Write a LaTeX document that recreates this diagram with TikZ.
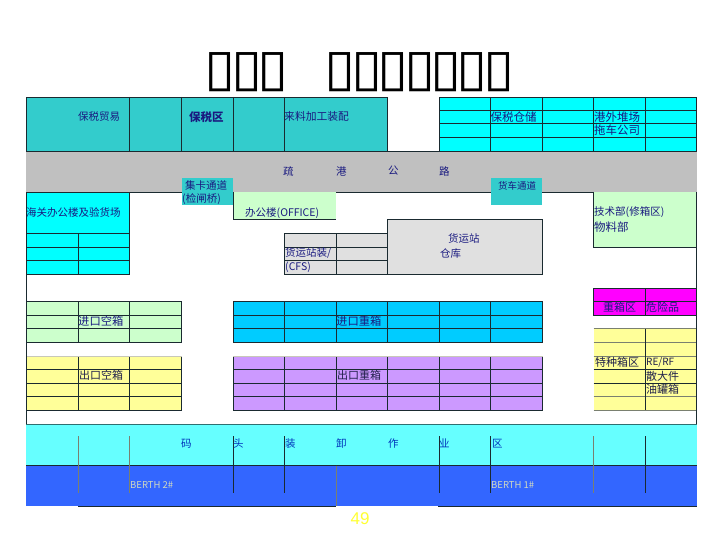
\documentclass[tikz,border=0pt]{standalone}
\usepackage{fontspec}
\setmainfont{Noto Sans CJK SC}
\newfontfamily\titlefont{DejaVu Sans}
\newfontfamily\numfont{Liberation Sans}
\newcommand{\tofu}{\scalebox{1.18}[1.07]{\titlefont\fontsize{48}{48}\selectfont ▯}}
\definecolor{tealfill}{HTML}{33CCCC}
\definecolor{cyanfill}{HTML}{00FFFF}
\definecolor{roadgray}{HTML}{C0C0C0}
\definecolor{palegreen}{HTML}{CCFFCC}
\definecolor{cfsgray}{HTML}{E0E0E0}
\definecolor{skyfill}{HTML}{00CCFF}
\definecolor{purplefill}{HTML}{CC99FF}
\definecolor{paleyellow}{HTML}{FFFF99}
\definecolor{magentafill}{HTML}{FF00FF}
\definecolor{quaycyan}{HTML}{66FFFF}
\definecolor{berthblue}{HTML}{3366FF}
\definecolor{linedark}{HTML}{1A2A30}
\definecolor{linesoft}{HTML}{7A8070}
\definecolor{linepale}{HTML}{C8C8B8}
\definecolor{quayline}{HTML}{2F6F70}
\definecolor{navytext}{HTML}{1A1A80}
\definecolor{darktext}{HTML}{20204A}
\definecolor{quaytext}{HTML}{0033BB}
\definecolor{berthtext}{HTML}{D0D8C0}
\definecolor{pagenum}{HTML}{FFFF33}
\tikzset{
  x=1pt,y=-1pt,
  rule/.style={draw=linedark,line width=0.8pt},
  softrule/.style={draw=linesoft,line width=0.7pt},
  palerule/.style={draw=linepale,line width=1pt},
  lab/.style={anchor=west,inner sep=0pt,text=navytext,font=\fontsize{10.5}{12}\selectfont},
  yardlab/.style={lab,font=\fontsize{11.3}{12}\selectfont},
  darklab/.style={lab,text=darktext,font=\fontsize{11}{12}\selectfont},
  titlebox/.style={anchor=center,inner sep=0pt},
}
% \blockgrid{x0}{x1}{y0}{y1}{fill}{inner xs}{inner ys}
\newcommand{\blockgrid}[7]{%
  \fill[#5] (#1,#3) rectangle (#2,#4);
  \foreach \gx in {#6} {\draw[rule] (\gx,#3) -- (\gx,#4);}
  \foreach \gy in {#7} {\draw[rule] (#1,\gy) -- (#2,\gy);}
  \draw[rule] (#1,#3) rectangle (#2,#4);
}
\begin{document}
\begin{tikzpicture}
\useasboundingbox (0,0) rectangle (720,540);
\fill[white] (0,0) rectangle (720,540);
% title
\foreach \tx/\tn in {220/a,247/b,273/c,340/d,367/e,393/f,420/g,446/h,472/i,499/j}
  \node[titlebox] (title\tn) at (\tx,72) {\tofu};
% road
\fill[roadgray] (26,151) rectangle (696.5,192);
\draw[rule] (26,151) -- (696.5,151);
\draw[rule] (26,192) -- (696.5,192);
% top blocks
\blockgrid{26}{387.5}{97}{151}{tealfill}{129.5,181.5,233,284.5}{}
\blockgrid{439}{696.5}{97}{151}{cyanfill}{490.5,542,593.5,645}{110,123.5,137}
% passages
\fill[tealfill] (181.5,178) rectangle (233,205.5);
\fill[tealfill] (490.5,178) rectangle (542,205.5);
% customs
\blockgrid{26}{129.5}{192}{274}{cyanfill}{}{233,247,260.5}
\draw[rule] (78,233) -- (78,274);
% office
\fill[palegreen] (233,192) rectangle (336,219);
\draw[rule] (233,192) -- (233,219) -- (336,219);
% CFS and warehouse
\blockgrid{284.5}{387.5}{233}{274}{cfsgray}{336}{247,260.5}
\blockgrid{387.5}{542.5}{219.5}{274}{cfsgray}{}{}
% tech
\fill[palegreen] (593.5,192) rectangle (696.5,247);
\draw[rule] (593.5,192) -- (593.5,247) -- (696.5,247);
% yards
\blockgrid{26}{181.5}{301.5}{342.5}{palegreen}{78,129.5}{315,328.7}
\blockgrid{233}{542.5}{301.5}{342.5}{skyfill}{284.5,336,387.5,439,490.5}{315,328.7}
\blockgrid{26}{181.5}{356}{410.5}{paleyellow}{78,129.5}{369.3,383.3,396.7}
\blockgrid{233}{542.5}{356}{410.5}{purplefill}{284.5,336,387.5,439,490.5}{369.3,383.3,396.7}
\draw[palerule] (26,356) -- (181.5,356);
\draw[palerule] (233,356) -- (542.5,356);
\blockgrid{593.5}{696.5}{288}{315}{magentafill}{645}{301.5}
\fill[paleyellow] (593.5,328.5) rectangle (696.5,410.5);
\foreach \yy in {342.5,356,396.7} {\draw[softrule] (593.5,\yy) -- (696.5,\yy);}
\foreach \yy in {369.3,383.3} {\draw[rule] (593.5,\yy) -- (696.5,\yy);}
\draw[rule] (645,328.5) -- (645,410.5);
\draw[softrule] (593.5,328.5) -- (696.5,328.5);
\draw[softrule] (593.5,410.5) -- (696.5,410.5);
% outer side lines
\draw[rule] (26,192) -- (26,425);
\draw[rule] (696.5,192) -- (696.5,425);
% quay
\fill[quaycyan] (26,424.5) rectangle (696.5,465.7);
\fill[berthblue] (26,465.7) rectangle (696.5,505.7);
\draw[quayline,line width=1.2pt] (26,424.5) -- (696.5,424.5);
\draw[rule] (26,465.7) -- (696.5,465.7);
\foreach \qx in {233,284.5,439,490.5,645}
  \draw[rule] (\qx,436) -- (\qx,492.7);
\foreach \qx in {78,129.5,593.5}
  \draw[softrule] (\qx,436) -- (\qx,492.7);
\draw[softrule] (336,465.7) -- (336,505.7);
\draw[rule] (78,506.3) -- (336,506.3);
\draw[rule] (438,506.3) -- (696.5,506.3);
% labels
\node[lab] (l01) at (78,116.7) {保税贸易};
\node[lab,font=\fontsize{11.5}{12}\selectfont\bfseries] (l02) at (189,116.7) {保税区};
\node[lab,font=\fontsize{10.8}{12}\selectfont] (l03) at (284,116.7) {来料加工装配};
\node[lab,font=\fontsize{11.5}{12}\selectfont] (l04) at (490.5,116.7) {保税仓储};
\node[lab,font=\fontsize{11.5}{12}\selectfont] (l05) at (594,116.7) {港外堆场};
\node[lab,font=\fontsize{11.5}{12}\selectfont] (l06) at (594,130) {拖车公司};
\foreach \rx/\rt/\rn in {283/疏/a,336/港/b,388/公/c,439/路/d}
  \node[lab] (road\rn) at (\rx,171) {\rt};
\node[lab] (l07) at (185,185) {集卡通道};
\node[lab] (l08) at (182,199) {(检闸桥)};
\node[lab,font=\fontsize{9.5}{12}\selectfont] (l09) at (498,185.5) {货车通道};
\node[lab] (l10) at (245,212.7) {办公楼(OFFICE)};
\node[lab] (l11) at (26,212) {海关办公楼及验货场};
\node[lab] (l12) at (285,253) {货运站装/};
\node[lab] (l13) at (285,267) {(CFS)};
\node[lab] (l14) at (448,239) {货运站};
\node[lab] (l15) at (440,254) {仓库};
\node[lab] (l16) at (594,212) {技术部(修箱区)};
\node[lab,font=\fontsize{11.5}{12}\selectfont] (l17) at (594,226.7) {物料部};
\node[lab,font=\fontsize{11}{12}\selectfont] (l18) at (603,307.7) {重箱区};
\node[lab,font=\fontsize{11}{12}\selectfont] (l19) at (646,307.7) {危险品};
\node[yardlab] (l20) at (78,321.3) {进口空箱};
\node[yardlab] (l21) at (336,321.3) {进口重箱};
\node[darklab] (l22) at (79,375.5) {出口空箱};
\node[darklab] (l23) at (337,375.5) {出口重箱};
\node[darklab] (l24) at (595,362) {特种箱区};
\node[darklab,font=\fontsize{10}{12}\selectfont] (l25) at (646,362) {RE/RF};
\node[darklab] (l26) at (646,376) {散大件};
\node[darklab] (l27) at (646,389) {油罐箱};
\foreach \qx/\qt/\qn in {181/码/a,233/头/b,285/装/c,336/卸/d,388/作/e,439/业/f,492/区/g}
  \node[lab,text=quaytext] (quay\qn) at (\qx,443.5) {\qt};
\node[lab,text=berthtext,font=\fontsize{9.5}{10}\selectfont] (l28) at (130,485) {BERTH 2\#};
\node[lab,text=berthtext,font=\fontsize{9.5}{10}\selectfont] (l29) at (491,485) {BERTH 1\#};
\node[inner sep=0pt,text=pagenum,font=\numfont\fontsize{17}{18}\selectfont] (page) at (360,519) {49};
\end{tikzpicture}
\end{document}
